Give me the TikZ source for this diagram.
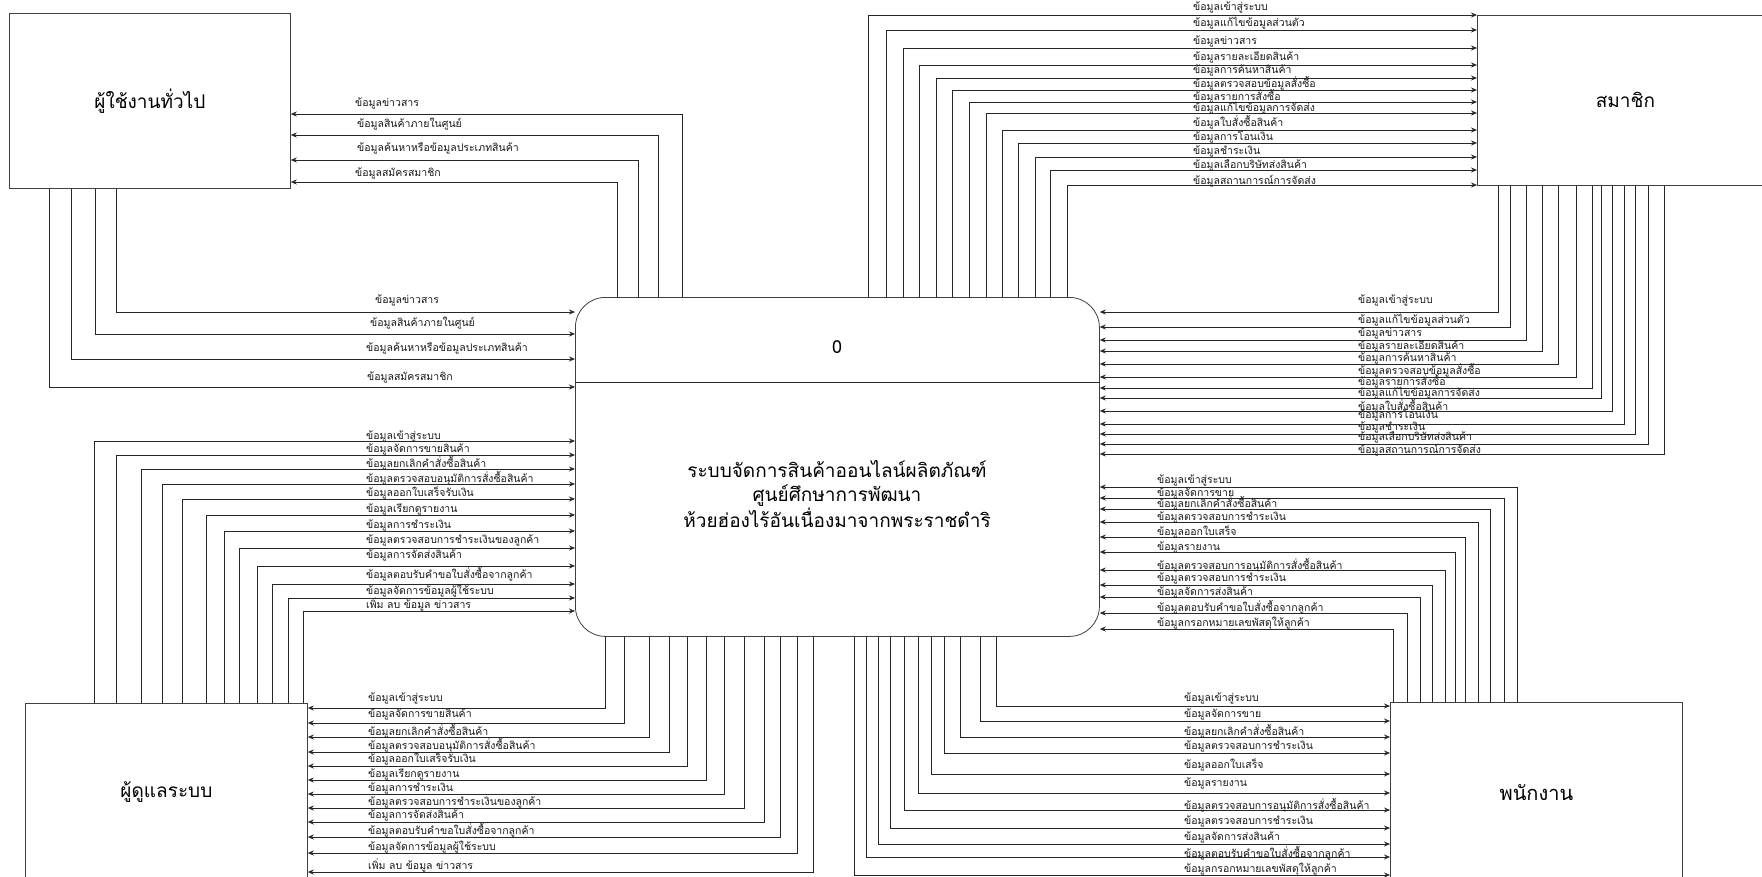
\documentclass[tikz,border=0pt]{standalone}
\usepackage{fontspec}
\setmainfont[Script=Thai]{Loma}
\newfontfamily\lblfont[Script=Thai]{Loma}
\usetikzlibrary{arrows.meta}
\begin{document}
\begin{tikzpicture}[x=1pt,y=-1pt,
  box/.style={draw=black!75, line width=0.8pt, inner sep=0pt, font=\fontsize{19}{24}\selectfont},
  flow/.style={draw=black!85, line width=0.7pt, -{Stealth[length=6pt,width=5pt]}},
  lbl/.style={anchor=west, inner sep=0pt, text=black!90, font=\lblfont\fontsize{10.5}{12}\selectfont}]
\useasboundingbox (0,0) rectangle (1762,876);
\fill[white] (0,0) rectangle (1762,876);

% boxes
\node[box, minimum width=281pt, minimum height=175pt, anchor=north west] (U) at (9,13) {ผู้ใช้งานทั่วไป};
\node[box, minimum width=296pt, minimum height=170pt, anchor=north west] (M) at (1477,15) {สมาชิก};
\node[box, minimum width=282pt, minimum height=178pt, anchor=north west] (A) at (25,703) {ผู้ดูแลระบบ};
\node[box, minimum width=292pt, minimum height=180pt, anchor=north west] (E) at (1390,702) {\fontsize{20}{24}\selectfont พนักงาน};
\node[box, rounded corners=30pt, minimum width=524pt, minimum height=339pt, anchor=north west] (C) at (575,297) {};
\node[font=\fontsize{18}{22}\selectfont] (C0) at (837,347) {0};
\node[font=\fontsize{19}{24}\selectfont, align=center] (Ct) at (837,494) {ระบบจัดการสินค้าออนไลน์ผลิตภัณฑ์\\ศูนย์ศึกษาการพัฒนา\\ห้วยฮ่องไร้อันเนื่องมาจากพระราชดำริ};
\draw[black!85, line width=0.7pt] (C.west |- 0,382) -- (C.east |- 0,382);

% center -> user
\foreach \vx/\ty/\lx/\ly/\t [count=\i] in {
 682/114/355/103/ข้อมูลข่าวสาร,
 658/135/357/124/ข้อมูลสินค้าภายในศูนย์,
 638/160/357/148/ข้อมูลค้นหาหรือข้อมูลประเภทสินค้า,
 617/182/355/173/ข้อมูลสมัครสมาชิก}{
 \draw[flow] (C.north -| \vx,0) |- (U.east |- 0,\ty);
 \node[lbl] (cu\i) at (\lx,\ly) {\t};}

% user -> center
\foreach \vx/\ty/\lx/\ly/\t [count=\i] in {
 116/312/375/300/ข้อมูลข่าวสาร,
 95/334/370/323/ข้อมูลสินค้าภายในศูนย์,
 71/359/366/348/ข้อมูลค้นหาหรือข้อมูลประเภทสินค้า,
 49/387/367/377/ข้อมูลสมัครสมาชิก}{
 \draw[flow] (U.south -| \vx,0) |- (C.west |- 0,\ty);
 \node[lbl] (uc\i) at (\lx,\ly) {\t};}

% center -> member
\foreach \vx/\ty/\ly/\t [count=\i] in {
 868/15/7/ข้อมูลเข้าสู่ระบบ,
 886/30/23/ข้อมูลแก้ไขข้อมูลส่วนตัว,
 903/48/41/ข้อมูลข่าวสาร,
 919/65/57/ข้อมูลรายละเอียดสินค้า,
 936/78/70/ข้อมูลการค้นหาสินค้า,
 952/90/83/ข้อมูลตรวจสอบข้อมูลสั่งซื้อ,
 969/102/96/ข้อมูลรายการสั่งซื้อ,
 986/113/108/ข้อมูลแก้ไขข้อมูลการจัดส่ง,
 1002/130/122/ข้อมูลใบสั่งซื้อสินค้า,
 1018/143/137/ข้อมูลการโอนเงิน,
 1035/157/151/ข้อมูลชำระเงิน,
 1050/170/165/ข้อมูลเลือกบริษัทส่งสินค้า,
 1067/185/181/ข้อมูลสถานการณ์การจัดส่ง}{
 \draw[flow] (C.north -| \vx,0) |- (M.west |- 0,\ty);
 \node[lbl] (cm\i) at (1193,\ly) {\t};}

% member -> center
\foreach \vx/\ty/\ly/\t [count=\i] in {
 1498/312/300/ข้อมูลเข้าสู่ระบบ,
 1510/327/320/ข้อมูลแก้ไขข้อมูลส่วนตัว,
 1526/340/333/ข้อมูลข่าวสาร,
 1542/351/346/ข้อมูลรายละเอียดสินค้า,
 1558/364/358/ข้อมูลการค้นหาสินค้า,
 1576/377/370/ข้อมูลตรวจสอบข้อมูลสั่งซื้อ,
 1592/388/381/ข้อมูลรายการสั่งซื้อ,
 1601/398/393/ข้อมูลแก้ไขข้อมูลการจัดส่ง,
 1612/411/406/ข้อมูลใบสั่งซื้อสินค้า,
 1624/424/415/ข้อมูลการโอนเงิน,
 1635/434/427/ข้อมูลชำระเงิน,
 1648/444/437/ข้อมูลเลือกบริษัทส่งสินค้า,
 1664/454/450/ข้อมูลสถานการณ์การจัดส่ง}{
 \draw[flow] (M.south -| \vx,0) |- (C.east |- 0,\ty);
 \node[lbl] (mc\i) at (1358,\ly) {\t};}

% admin -> center
\foreach \vx/\ty/\ly/\t [count=\i] in {
 94/441/436/ข้อมูลเข้าสู่ระบบ,
 116/455/449/ข้อมูลจัดการขายสินค้า,
 141/469/463/ข้อมูลยกเลิกคำสั่งซื้อสินค้า,
 162/484/478/ข้อมูลตรวจสอบอนุมัติการสั่งซื้อสินค้า,
 182/499/493/ข้อมูลออกใบเสร็จรับเงิน,
 206/515/509/ข้อมูลเรียกดูรายงาน,
 224/531/525/ข้อมูลการชำระเงิน,
 239/548/540/ข้อมูลตรวจสอบการชำระเงินของลูกค้า,
 257/566/555/ข้อมูลการจัดส่งสินค้า,
 272/584/574/ข้อมูลตอบรับคำขอใบสั่งซื้อจากลูกค้า,
 288/598/591/ข้อมูลจัดการข้อมูลผู้ใช้ระบบ,
 303/611/604/เพิ่ม ลบ ข้อมูล ข่าวสาร}{
 \draw[flow] (A.north -| \vx,0) |- (C.west |- 0,\ty);
 \node[lbl] (ac\i) at (366,\ly) {\t};}

% center -> admin
\foreach \vx/\ty/\ly/\t [count=\i] in {
 605/708/698/ข้อมูลเข้าสู่ระบบ,
 624/723/714/ข้อมูลจัดการขายสินค้า,
 649/737/731/ข้อมูลยกเลิกคำสั่งซื้อสินค้า,
 669/752/745/ข้อมูลตรวจสอบอนุมัติการสั่งซื้อสินค้า,
 687/766/759/ข้อมูลออกใบเสร็จรับเงิน,
 706/780/774/ข้อมูลเรียกดูรายงาน,
 724/794/788/ข้อมูลการชำระเงิน,
 744/808/802/ข้อมูลตรวจสอบการชำระเงินของลูกค้า,
 764/822/815/ข้อมูลการจัดส่งสินค้า,
 780/837/830/ข้อมูลตอบรับคำขอใบสั่งซื้อจากลูกค้า,
 797/853/847/ข้อมูลจัดการข้อมูลผู้ใช้ระบบ,
 813/872/865/เพิ่ม ลบ ข้อมูล ข่าวสาร}{
 \draw[flow] (C.south -| \vx,0) |- (A.east |- 0,\ty);
 \node[lbl] (ca\i) at (368,\ly) {\t};}

% center -> employee
\foreach \vx/\ty/\ly/\t [count=\i] in {
 996/706/698/ข้อมูลเข้าสู่ระบบ,
 980/721/714/ข้อมูลจัดการขาย,
 960/737/731/ข้อมูลยกเลิกคำสั่งซื้อสินค้า,
 944/753/746/ข้อมูลตรวจสอบการชำระเงิน,
 931/774/765/ข้อมูลออกใบเสร็จ,
 918/793/783/ข้อมูลรายงาน,
 904/810/805/ข้อมูลตรวจสอบการอนุมัติการสั่งซื้อสินค้า,
 890/828/821/ข้อมูลตรวจสอบการชำระเงิน,
 878/844/837/ข้อมูลจัดการส่งสินค้า,
 866/857/853/ข้อมูลตอบรับคำขอใบสั่งซื้อจากลูกค้า,
 854/875/869/ข้อมูลกรอกหมายเลขพัสดุให้ลูกค้า}{
 \draw[flow] (C.south -| \vx,0) |- (E.west |- 0,\ty);
 \node[lbl] (ce\i) at (1184,\ly) {\t};}

% employee -> center
\foreach \vx/\ty/\ly/\t [count=\i] in {
 1517/487/480/ข้อมูลเข้าสู่ระบบ,
 1504/498/493/ข้อมูลจัดการขาย,
 1490/509/503/ข้อมูลยกเลิกคำสั่งซื้อสินค้า,
 1478/522/517/ข้อมูลตรวจสอบการชำระเงิน,
 1465/537/532/ข้อมูลออกใบเสร็จ,
 1455/552/547/ข้อมูลรายงาน,
 1445/570/565/ข้อมูลตรวจสอบการอนุมัติการสั่งซื้อสินค้า,
 1432/585/578/ข้อมูลตรวจสอบการชำระเงิน,
 1420/597/592/ข้อมูลจัดการส่งสินค้า,
 1407/613/607/ข้อมูลตอบรับคำขอใบสั่งซื้อจากลูกค้า,
 1393/629/623/ข้อมูลกรอกหมายเลขพัสดุให้ลูกค้า}{
 \draw[flow] (E.north -| \vx,0) |- (C.east |- 0,\ty);
 \node[lbl] (ec\i) at (1157,\ly) {\t};}
\end{tikzpicture}
\end{document}
